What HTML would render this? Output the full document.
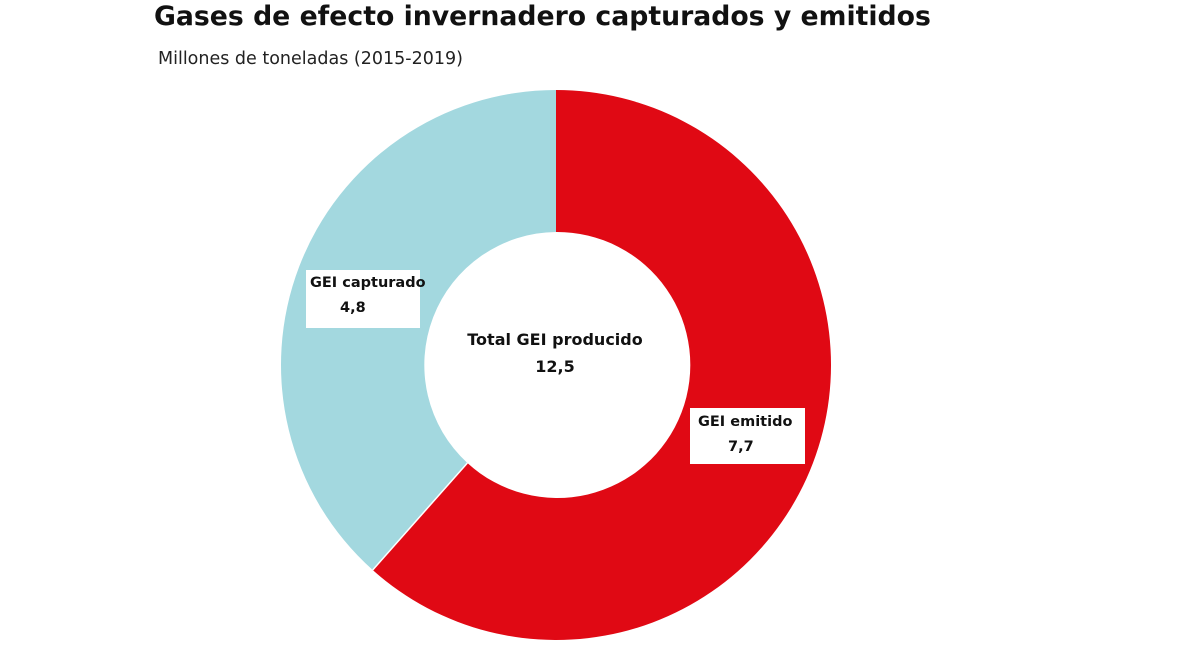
<!DOCTYPE html>
<html><head><meta charset="utf-8"><style>
body{margin:0;background:#fff;width:1200px;height:653px;overflow:hidden;font-family:"Liberation Sans","DejaVu Sans",sans-serif;}
.t{position:absolute;left:154px;top:1px;font-size:26.7px;font-weight:bold;color:#111;font-family:"DejaVu Sans","Liberation Sans",sans-serif;}
.s{position:absolute;left:158px;top:49px;font-size:17.5px;color:#222;font-family:"DejaVu Sans","Liberation Sans",sans-serif;}
.b{position:absolute;background:#fff;font-size:14.5px;font-weight:bold;color:#111;line-height:25px;white-space:nowrap;font-family:"DejaVu Sans","Liberation Sans",sans-serif;}
</style></head><body>
<div class="t">Gases de efecto invernadero capturados y emitidos</div>
<div class="s">Millones de toneladas (2015-2019)</div>
<svg width="1200" height="653" style="position:absolute;left:0;top:0">
<path d="M556 90 A275 275 0 1 1 372.7 570 L467.4 463 A133 133 0 1 0 556 232 Z" fill="#e00914"/>
<path d="M372.7 570 A275 275 0 0 1 556 90 L556 232 A133 133 0 0 0 467.4 463 Z" fill="#a3d8df"/>
<line x1="372.7" y1="570" x2="467.4" y2="463" stroke="#fff" stroke-width="1.5"/>
<text x="555" y="345" text-anchor="middle" font-family="DejaVu Sans, Liberation Sans, sans-serif" font-weight="bold" font-size="16" fill="#111">Total GEI producido</text>
<text x="555" y="372" text-anchor="middle" font-family="DejaVu Sans, Liberation Sans, sans-serif" font-weight="bold" font-size="16" fill="#111">12,5</text>
</svg>
<div class="b" style="left:306px;top:270px;width:114px;height:58px;padding:1px 0 0 4px;box-sizing:border-box">GEI capturado<br><span style="padding-left:30px">4,8</span></div>
<div class="b" style="left:690px;top:408px;width:115px;height:56px;padding:2px 0 0 8px;box-sizing:border-box">GEI emitido<br><span style="padding-left:30px">7,7</span></div>
</body></html>
